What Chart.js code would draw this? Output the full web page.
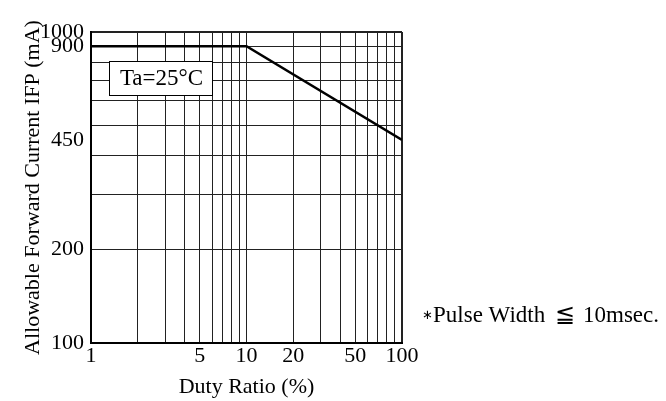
<!DOCTYPE html>
<html>
<head>
<meta charset="utf-8">
<script src="https://cdn.jsdelivr.net/npm/chart.js@4/dist/chart.umd.min.js"></script>
<style>
  html, body { margin: 0; padding: 0; background: #fff; }
  #wrap { width: 666px; height: 401px; }
</style>
</head>
<body>
<div id="wrap"><canvas id="myChart"></canvas></div>
<script>
const dutyRatio = [1, 10, 100];
const currentMA = [900, 900, 450];
const xGridValues = [1, 2, 3, 4, 5, 6, 7, 8, 9, 10, 20, 30, 40, 50, 60, 70, 80, 90, 100];
const xTickLabels = [1, 5, 10, 20, 50, 100];
const yGridValues = [100, 200, 300, 400, 500, 600, 700, 800, 900, 1000];
const yTickLabels = [100, 200, 450, 900, 1000];

const serif = "'Liberation Serif', 'Times New Roman', serif";
const ctx = document.getElementById("myChart");

const notes = {
  id: "notes",
  afterDraw(chart) {
    const c = chart.ctx;
    const a = chart.chartArea;
    c.save();
    // Ta box
    const bx = a.left + 18, by = a.top + 29, bw = 103, bh = 34;
    c.fillStyle = "#fff";
    c.fillRect(bx, by, bw, bh);
    c.strokeStyle = "#000";
    c.lineWidth = 1;
    c.strokeRect(bx + 0.5, by + 0.5, bw, bh);
    c.fillStyle = "#000";
    c.font = "23px " + serif;
    c.textAlign = "center";
    c.textBaseline = "middle";
    c.fillText("Ta=25°C", bx + bw / 2 + 1, by + bh / 2 + 1);
    // footnote
    c.textAlign = "left";
    c.textBaseline = "alphabetic";
    c.font = "13px " + serif;
    c.fillText("∗", 422, 319);
    c.font = "23px " + serif;
    c.fillText("Pulse Width", 433, 322);
    c.fillText("10msec.", 583, 322);
    c.font = "24px " + serif;
    c.fillText("\u2266", 555, 322);
    c.restore();
  },
};

new Chart(ctx, {
  type: "scatter",
  data: {
    datasets: [
      {
        data: dutyRatio.map((x, i) => ({ x: x, y: currentMA[i] })),
        showLine: true,
        borderColor: "#000",
        borderWidth: 2.5,
        pointRadius: 0,
      },
    ],
  },
  options: {
    responsive: true,
    maintainAspectRatio: false,
    animation: false,
    layout: { padding: { top: 32, right: 264, bottom: 0, left: 0 } },
    plugins: { legend: { display: false }, tooltip: { enabled: false } },
    scales: {
      x: {
        type: "logarithmic",
        min: 1,
        max: 100,
        afterBuildTicks: (scale) => {
          scale.ticks = xGridValues.map((v) => ({ value: v }));
        },
        afterFit: (scale) => {
          scale.height = 58;
        },
        ticks: {
          autoSkip: false,
          maxRotation: 0,
          padding: 0,
          color: "#000",
          font: { family: serif, size: 22 },
          callback: (v) => (xTickLabels.includes(v) ? String(v) : ""),
        },
        grid: {
          color: "#222",
          lineWidth: (c) => (c.tick && c.tick.value === 100 ? 2 : 1),
          drawTicks: false,
        },
        border: { display: true, color: "#000", width: 2 },
        title: {
          display: true,
          text: "Duty Ratio (%)",
          color: "#000",
          font: { family: serif, size: 22 },
          padding: { top: 0, bottom: 1 },
        },
      },
      y: {
        type: "logarithmic",
        min: 100,
        max: 1000,
        afterBuildTicks: (scale) => {
          const vals = yGridValues.concat([450]).sort((a, b) => a - b);
          scale.ticks = vals.map((v) => ({ value: v }));
        },
        afterFit: (scale) => {
          scale.width = 91;
        },
        ticks: {
          autoSkip: false,
          padding: 7,
          color: "#000",
          font: { family: serif, size: 22 },
          callback: (v) => (yTickLabels.includes(v) ? String(v) : ""),
        },
        grid: {
          color: (c) => (c.tick && c.tick.value === 450 ? "rgba(0,0,0,0)" : "#222"),
          lineWidth: (c) => (c.tick && c.tick.value === 1000 ? 2 : 1),
          drawTicks: false,
        },
        border: { display: true, color: "#000", width: 2 },
        title: {
          display: true,
          text: "Allowable Forward Current IFP (mA)",
          color: "#000",
          font: { family: serif, size: 22 },
          padding: { top: 20, bottom: 0 },
        },
      },
    },
  },
  plugins: [notes],
});
</script>
</body>
</html>
